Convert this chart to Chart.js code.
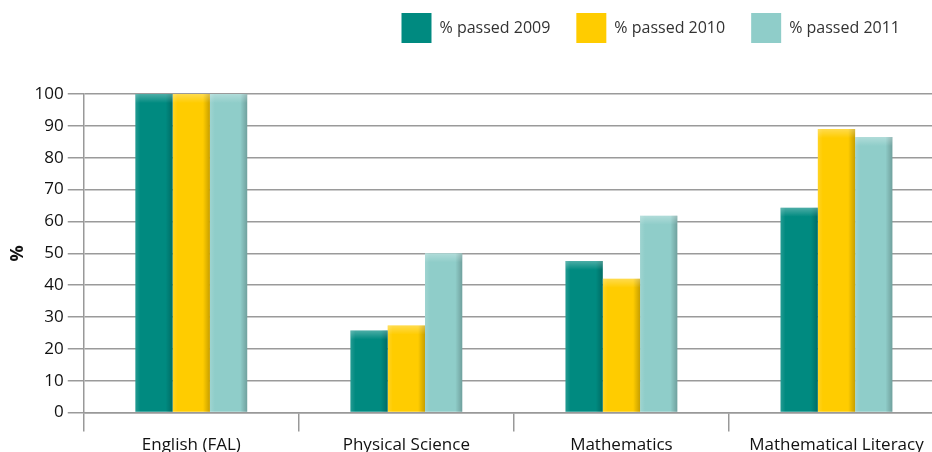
<!DOCTYPE html>
<html>
<head>
<meta charset="utf-8">
<script src="https://cdn.jsdelivr.net/npm/chart.js@4.4.1/dist/chart.umd.min.js"></script>
<style>
    html, body { margin: 0; padding: 0; background: #ffffff; overflow: hidden; }
    #wrap { width: 944px; height: 458px; position: relative; }
</style>
</head>
<body>
<div id="wrap"><canvas id="passChart"></canvas></div>
<script>
// ============================
// Data
// ============================
const subjects = ["English (FAL)", "Physical Science", "Mathematics", "Mathematical Literacy"];
const passed2009 = [100, 25.8, 47.6, 64.3];
const passed2010 = [100, 27.3, 42.0, 89.0];
const passed2011 = [100, 50.0, 61.8, 86.5];
const yTicks = [0, 10, 20, 30, 40, 50, 60, 70, 80, 90, 100];

// ============================
// Bar shading (soft bevel look)
// ============================
const barShade = {
    id: "barShade",
    afterDatasetsDraw(chart) {
        const ctx = chart.ctx;
        chart.data.datasets.forEach((ds, i) => {
            chart.getDatasetMeta(i).data.forEach(bar => {
                const left = bar.x - bar.width / 2;
                const right = bar.x + bar.width / 2;
                const top = Math.min(bar.y, bar.base);
                const h = Math.abs(bar.base - bar.y);

                // darker right edge
                let g = ctx.createLinearGradient(right - 7, 0, right, 0);
                g.addColorStop(0, "rgba(0,0,0,0)");
                g.addColorStop(1, "rgba(0,0,0,0.22)");
                ctx.fillStyle = g;
                ctx.fillRect(right - 7, top, 7, h);

                // light left edge
                g = ctx.createLinearGradient(left, 0, left + 5, 0);
                g.addColorStop(0, "rgba(255,255,255,0.14)");
                g.addColorStop(1, "rgba(255,255,255,0)");
                ctx.fillStyle = g;
                ctx.fillRect(left, top, 5, h);

                // light top
                g = ctx.createLinearGradient(0, top, 0, top + 9);
                g.addColorStop(0, "rgba(255,255,255,0.3)");
                g.addColorStop(1, "rgba(255,255,255,0)");
                ctx.fillStyle = g;
                ctx.fillRect(left, top, bar.width, 9);
            });
        });
    }
};

// ============================
// Legend placement (top right, closer to the edge)
// ============================
const legendNudge = {
    id: "legendNudge",
    afterLayout(chart) {
        chart.legend.top -= 41;
        chart.legend.right -= 18;
    }
};

// ============================
// Chart
// ============================
document.addEventListener("DOMContentLoaded", function () {

    if (typeof Chart === "undefined") return;

    Chart.defaults.font.family = "'Open Sans', 'Noto Sans', sans-serif";
    Chart.defaults.color = "#1a1a1a";

    new Chart(document.getElementById("passChart"), {
        type: "bar",
        data: {
            labels: subjects,
            datasets: [
                { label: "% passed 2009", data: passed2009, backgroundColor: "#008a80" },
                { label: "% passed 2010", data: passed2010, backgroundColor: "#ffcc00" },
                { label: "% passed 2011", data: passed2011, backgroundColor: "#8fcdc9" }
            ]
        },
        options: {
            responsive: true,
            maintainAspectRatio: false,
            animation: false,
            layout: { padding: { top: 28, left: 3, right: 0, bottom: 0 } },
            datasets: {
                bar: { categoryPercentage: 0.52, barPercentage: 1.0 }
            },
            plugins: {
                legend: {
                    position: "top",
                    align: "end",
                    labels: {
                        boxWidth: 30,
                        boxHeight: 30,
                        padding: 26,
                        color: "#333333",
                        font: { size: 16 }
                    }
                },
                tooltip: { enabled: false }
            },
            scales: {
                x: {
                    grid: {
                        offset: true,
                        drawOnChartArea: false,
                        drawTicks: true,
                        tickLength: 19,
                        color: "#999999",
                        lineWidth: 1.5
                    },
                    border: { display: true, color: "#999999", width: 1.5 },
                    ticks: {
                        padding: 3,
                        color: "#111111",
                        font: { size: 17 },
                        maxRotation: 0
                    }
                },
                y: {
                    min: 0,
                    max: 100,
                    afterBuildTicks(scale) {
                        scale.ticks = yTicks.map(v => ({ value: v }));
                    },
                    grid: {
                        color: "#9a9a9a",
                        lineWidth: 1.5,
                        tickLength: 16
                    },
                    border: { display: true, color: "#999999", width: 1.5 },
                    ticks: {
                        padding: 4,
                        color: "#111111",
                        font: { size: 17 }
                    },
                    title: {
                        display: true,
                        text: "%",
                        color: "#111111",
                        font: { size: 18, weight: "bold" },
                        padding: { top: 4, bottom: 2 }
                    }
                }
            }
        },
        plugins: [barShade, legendNudge]
    });

});
</script>
</body>
</html>
